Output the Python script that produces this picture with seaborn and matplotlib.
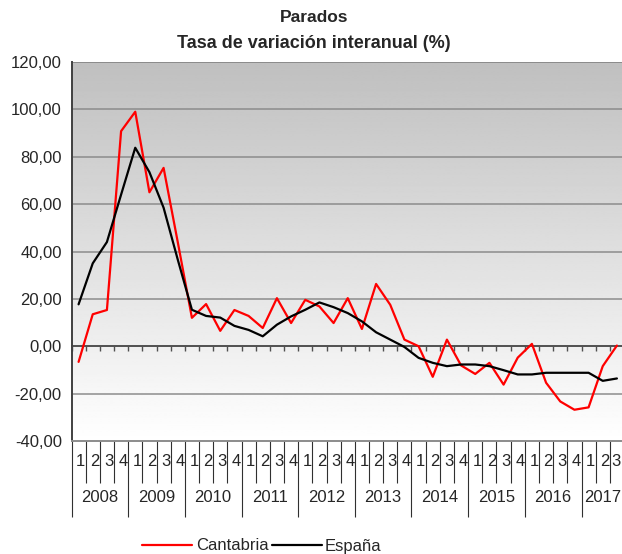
import numpy as np
import pandas as pd
import matplotlib
matplotlib.use("Agg")
import matplotlib.pyplot as plt
import matplotlib.transforms as mtransforms
from matplotlib.lines import Line2D
import seaborn as sns

# ---- data ----
years = ["2008", "2009", "2010", "2011", "2012", "2013", "2014", "2015", "2016", "2017"]
quarters_per_year = [4, 4, 4, 4, 4, 4, 4, 4, 4, 3]
cantabria = [-6.6, 13.5, 15.3, 90.8,
             99.0, 65.0, 75.3, 44.0,
             12.0, 17.8, 6.5, 15.3,
             12.8, 7.7, 20.3, 9.8,
             19.6, 16.8, 9.8, 20.3,
             7.3, 26.3, 17.5, 2.8,
             0.0, -12.9, 2.8, -8.1,
             -11.7, -7.0, -16.2, -4.8,
             1.0, -15.4, -23.3, -26.8,
             -25.8, -8.4, 0.3]
espana = [17.7, 35.0, 44.0, 64.0,
          83.8, 73.5, 58.5, 36.6,
          15.4, 12.8, 12.1, 8.6,
          6.9, 4.2, 9.1, 12.6,
          15.4, 18.5, 16.5, 14.0,
          10.5, 5.9, 2.8, -0.3,
          -4.9, -7.0, -8.4, -7.7,
          -7.7, -8.4, -10.1, -11.9,
          -11.9, -11.2, -11.2, -11.2,
          -11.2, -14.6, -13.6]
y_ticks = [-40, -20, 0, 20, 40, 60, 80, 100, 120]
series_names = ["Cantabria", "España"]
series_colors = ["#ff0000", "#000000"]

n = len(cantabria)
idx = np.arange(n)
quarter_labels = []
for q in quarters_per_year:
    quarter_labels += [str(k + 1) for k in range(q)]

df = pd.DataFrame({
    "idx": np.concatenate([idx, idx]),
    "valor": cantabria + espana,
    "serie": [series_names[0]] * n + [series_names[1]] * n,
})

sns.set_style("white")
plt.rcParams["font.family"] = ["Liberation Sans", "DejaVu Sans"]
FS = 12

W, H = 622, 554
fig = plt.figure(figsize=(W / 100, H / 100), dpi=100)
left, right, top, bottom = 71.5, 624.0, 62.0, 441.0
ax = fig.add_axes([left / W, 1 - bottom / H, (right - left) / W, (bottom - top) / H])

# gradient background
grad = np.linspace(0.75, 1.0, 256).reshape(-1, 1)
ax.imshow(grad, extent=[0, 1, 0, 1], transform=ax.transAxes, aspect="auto",
          cmap="gray", vmin=0, vmax=1, zorder=0, interpolation="bilinear")

sns.lineplot(data=df, x="idx", y="valor", hue="serie", palette=series_colors,
             linewidth=1.6, ax=ax, legend=False, zorder=5)

ax.set_xlim(-0.5, n - 0.5)
ax.set_ylim(-40, 120)

# horizontal grid lines
for yv in y_ticks:
    if yv not in (0, -40):
        ax.axhline(yv, color="#8c8c8c", linewidth=1.1, zorder=1)

# y axis
ax.set_yticks(y_ticks)
ax.set_yticklabels([f"{v:.2f}".replace(".", ",") for v in y_ticks], fontsize=FS)
ax.tick_params(axis="y", direction="out", length=4, width=1.0, color="#404040", pad=3)
for s in ["top", "right"]:
    ax.spines[s].set_visible(False)
ax.spines["left"].set_color("#404040")
ax.spines["left"].set_linewidth(1.4)
ax.spines["bottom"].set_color("#8c8c8c")
ax.spines["bottom"].set_linewidth(1.4)

# category axis below plot: boundary lines
bounds = np.arange(n + 1) - 0.5
year_bounds = [-0.5]
acc = -0.5
for q in quarters_per_year:
    acc += q
    year_bounds.append(acc)
minor_bounds = [b for b in bounds if b not in year_bounds]
ax.set_xticks(year_bounds)
ax.set_xticks(minor_bounds, minor=True)
ax.set_xticklabels([])
ax.set_xlabel("")
ax.set_ylabel("")
ax.tick_params(axis="x", which="major", direction="out", length=55, width=0.8, color="#303030")
ax.tick_params(axis="x", which="minor", direction="out", length=30, width=0.8, color="#303030")
ax.tick_params(axis="x", bottom=True, which="both")

# zero line with downward ticks
sec = ax.secondary_xaxis(0.25)
sec.set_xticks(list(bounds))
sec.set_xticklabels([])
sec.tick_params(direction="out", length=3.5, width=1.0, color="#505050")
sec.spines["bottom"].set_color("#505050")
sec.spines["bottom"].set_linewidth(1.4)
ax.axhline(120, color="#8c8c8c", linewidth=1.4, zorder=1)

trans = mtransforms.blended_transform_factory(ax.transData, ax.transAxes)
ax_h = bottom - top
for i, lab in enumerate(quarter_labels):
    off = 0.15 if i < n - 1 else -0.05
    ax.text(i + off, -21 / ax_h, lab, transform=trans, ha="center", va="center",
            fontsize=FS, clip_on=False)
for k, yr in enumerate(years):
    c = (year_bounds[k] + year_bounds[k + 1]) / 2
    ax.text(c, -56 / ax_h, yr, transform=trans, ha="center", va="center",
            fontsize=FS, clip_on=False)

# titles
fig.text(314 / W, 1 - 18 / H, "Parados", ha="center", va="center",
         fontsize=12.5, fontweight="bold")
fig.text(314 / W, 1 - 44 / H, "Tasa de variación interanual (%)", ha="center",
         va="center", fontsize=13, fontweight="bold")

# legend
handles = [Line2D([0], [0], color=c, linewidth=1.6) for c in series_colors]
fig.legend(handles, series_names, loc="center", bbox_to_anchor=(262 / W, 1 - 546 / H),
           ncol=2, frameon=False, fontsize=FS, handlelength=3.0, handletextpad=0.2,
           columnspacing=0.2, borderpad=0)

fig.savefig("out.png", dpi=100)
